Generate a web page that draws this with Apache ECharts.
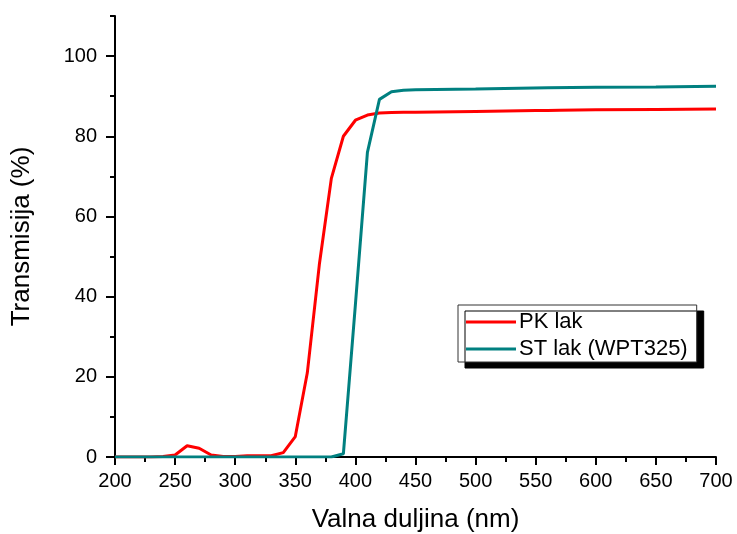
<!DOCTYPE html>
<html>
<head>
<meta charset="utf-8">
<script src="https://cdn.jsdelivr.net/npm/echarts@6/dist/echarts.min.js"></script>
<style>html,body{margin:0;padding:0;background:#fff}#c{width:737px;height:534px}</style>
</head>
<body>
<div id="c"></div>
<script>
var pkWave = [200,210,220,230,240,250,260,270,280,290,300,310,320,330,340,350,360,370,380,390,400,410,420,430,440,450,500,550,560,570,600,650,700];
var pkVal  = [0,0,0,0,0.1,0.5,2.8,2.2,0.5,0.1,0.1,0.3,0.3,0.3,1.1,5.1,21,48,69.5,80,84,85.3,85.8,85.9,86,86,86.2,86.4,86.4,86.5,86.6,86.7,86.8];
var stWave = [200,250,300,350,380,390,400,410,420,430,440,450,500,560,600,650,700];
var stVal  = [0,0,0,0,0,0.8,38,76,89.2,91.1,91.5,91.6,91.8,92.1,92.2,92.3,92.5];
var xTicks = [200,250,300,350,400,450,500,550,600,650,700];
var xMinor = [225,275,325,375,425,475,525,575,625,675];
var yTicks = [0,20,40,60,80,100];
var yMinor = [10,30,50,70,90,110];
var seriesNames = ['PK lak','ST lak (WPT325)'];

function pairs(xs, ys){ return xs.map(function(x,i){return [x, ys[i]];}); }

var font = 'Arial, "Liberation Sans", sans-serif';
var chart = echarts.init(document.getElementById('c'), null, {renderer:'canvas'});
chart.setOption({
  animation:false,
  backgroundColor:'#fff',
  grid:{left:115,right:21,top:16,bottom:77,containLabel:false,outerBoundsMode:'none'},
  legend:{
    orient:'vertical',
    left:458, top:305,
    padding:[6,9,2,8],
    itemGap:5,
    itemWidth:50, itemHeight:3,
    icon:'rect',
    backgroundColor:'#fff',
    borderColor:'#333', borderWidth:1, borderRadius:0,
    shadowColor:'#000', shadowBlur:0, shadowOffsetX:7, shadowOffsetY:6,
    textStyle:{fontFamily:font,fontSize:22,color:'#000',lineHeight:22,padding:[0,0,0,-2]},
    data:seriesNames
  },
  xAxis:[{
    type:'value', min:200, max:700, interval:50,
    name:'Valna duljina (nm)', nameLocation:'middle', nameGap:50,
    nameTextStyle:{fontFamily:font,fontSize:26,color:'#000'},
    axisLine:{show:true,onZero:false,lineStyle:{color:'#000',width:2}},
    axisTick:{show:true,inside:false,length:8,lineStyle:{color:'#000',width:2},customValues:xTicks},
    axisLabel:{show:true,fontFamily:font,fontSize:20,color:'#000',margin:14,customValues:xTicks},
    splitLine:{show:false}
  },{
    type:'value', min:200, max:700, position:'bottom',
    axisLine:{show:false},
    axisTick:{show:true,length:5,lineStyle:{color:'#000',width:2},customValues:xMinor},
    axisLabel:{show:false},
    splitLine:{show:false}
  }],
  yAxis:[{
    type:'value', min:0, max:110, interval:20,
    name:'Transmisija (%)', nameLocation:'middle', nameGap:80, nameRotate:90,
    nameTextStyle:{fontFamily:font,fontSize:26,color:'#000'},
    axisLine:{show:true,onZero:false,lineStyle:{color:'#000',width:2}},
    axisTick:{show:true,length:9,lineStyle:{color:'#000',width:2},customValues:yTicks},
    axisLabel:{show:true,fontFamily:font,fontSize:20,color:'#000',margin:18,customValues:yTicks},
    splitLine:{show:false}
  },{
    type:'value', min:0, max:110, position:'left',
    axisLine:{show:false},
    axisTick:{show:true,length:5,lineStyle:{color:'#000',width:2},customValues:yMinor},
    axisLabel:{show:false},
    splitLine:{show:false}
  }],
  series:[{
    name:seriesNames[0], type:'line', xAxisIndex:0, yAxisIndex:0,
    data:pairs(pkWave,pkVal), showSymbol:false, symbol:'none',
    lineStyle:{color:'#ff0000',width:3}, itemStyle:{color:'#ff0000'}, z:2
  },{
    name:seriesNames[1], type:'line', xAxisIndex:0, yAxisIndex:0,
    data:pairs(stWave,stVal), showSymbol:false, symbol:'none',
    lineStyle:{color:'#008080',width:3}, itemStyle:{color:'#008080'}, z:3
  }]
});
</script>
</body>
</html>
